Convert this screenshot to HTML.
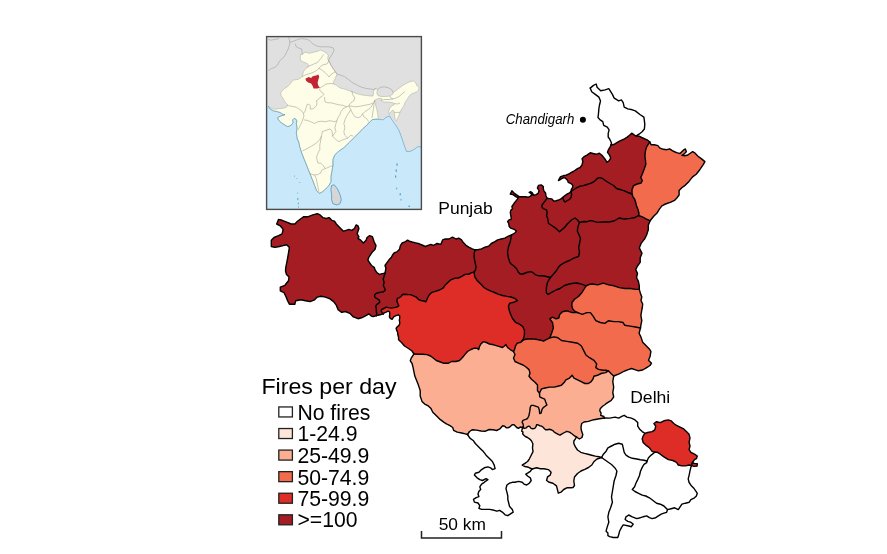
<!DOCTYPE html><html><head><meta charset="utf-8"><style>
html,body{margin:0;padding:0;background:#fff;}
body{width:887px;height:554px;overflow:hidden;position:relative;font-family:"Liberation Sans",sans-serif;}
svg{position:absolute;left:0;top:0;will-change:transform;}
</style></head><body>
<svg width="887" height="554" viewBox="0 0 887 554">
<g>
<rect x="266.8" y="36.8" width="154.6" height="172.6" fill="#c9e9fa"/>
<polygon points="267.0,37.0 421.0,37.0 421.0,146.8 417.6,146.8 413.9,149.6 410.2,151.4 406.5,151.4 404.7,146.8 402.9,141.3 401.0,135.8 399.2,131.0 397.5,128.0 395.3,124.5 393.0,121.5 391.0,118.5 389.8,116.0 387.7,116.6 385.5,117.7 383.3,119.8 377.9,119.3 372.0,118.0 340.0,110.0 300.0,105.0 287.7,104.9 286.6,107.1 283.3,108.2 279.0,108.7 275.7,109.2 272.5,108.7 269.8,107.6 268.2,105.5 267.0,104.5" fill="#e0e0e0"/>
<polygon points="268.5,106.5 272.5,108.7 275.7,109.2 279.0,108.7 283.3,108.2 286.6,107.1 287.7,104.9 285.5,102.7 283.9,100.0 282.8,97.9 281.2,95.7 280.6,93.0 282.2,90.8 284.4,88.7 287.7,86.5 289.8,84.3 293.1,80.0 295.5,79.8 298.5,79.3 302.3,76.6 302.8,74.4 303.4,71.7 305.0,69.6 307.2,67.4 308.8,65.2 307.2,63.6 303.4,62.0 300.7,60.4 300.1,57.7 300.7,54.4 302.3,54.4 305.0,52.2 309.3,53.3 313.7,52.2 318.0,51.2 320.2,50.1 323.4,51.2 326.7,53.3 328.3,55.5 327.7,58.7 328.8,60.9 331.0,65.2 333.1,68.5 335.3,71.7 336.9,74.4 335.3,78.2 333.7,81.5 333.1,83.7 336.4,85.3 340.0,87.9 344.3,89.0 348.7,90.6 353.0,92.2 357.3,93.8 361.7,94.9 366.0,95.5 370.3,96.0 373.0,96.0 373.6,91.7 374.7,89.0 376.3,88.4 377.4,90.0 376.8,93.3 377.9,95.5 381.2,96.5 385.5,96.5 389.8,96.0 393.1,93.8 393.1,92.7 397.4,89.5 401.7,86.2 405.0,84.1 409.3,81.9 413.6,80.8 415.8,83.0 416.9,85.7 419.1,87.3 418.5,90.0 416.9,91.7 414.7,92.7 411.5,93.8 409.3,96.0 407.2,99.2 405.0,102.5 403.9,105.7 401.7,109.0 400.1,112.2 399.0,115.5 397.4,118.7 396.3,120.9 395.2,119.8 394.7,115.5 394.2,112.2 393.1,110.1 391.4,111.2 389.8,113.3 389.3,114.4 388.7,111.2 389.8,107.9 392.0,105.7 394.2,104.7 394.7,103.6 392.0,102.5 387.7,102.0 383.3,102.0 381.2,100.3 381.7,98.7 379.0,98.2 376.8,99.2 374.7,100.3 375.7,102.5 375.7,105.7 376.8,109.0 377.4,112.2 377.9,115.5 378.4,118.7 375.0,119.3 372.5,119.5 369.7,122.0 366.5,125.5 363.0,128.5 359.6,132.1 355.0,136.7 349.5,142.2 343.9,147.7 338.4,151.4 334.7,155.1 332.9,159.7 332.9,165.2 332.0,170.8 331.0,176.3 331.0,181.8 330.3,182.9 329.0,185.5 326.4,188.1 323.8,190.7 321.2,192.6 319.2,193.3 316.6,190.7 314.7,185.5 312.1,179.0 309.5,172.5 306.9,166.0 304.3,159.5 301.7,153.0 299.7,146.5 298.4,140.5 297.4,140.0 296.9,136.3 296.3,133.1 296.9,129.8 296.9,126.6 296.3,123.3 296.9,121.2 295.8,119.0 294.2,118.4 292.5,120.1 293.1,122.2 292.0,124.4 289.8,126.0 287.7,126.6 285.5,125.5 282.2,123.3 279.5,121.2 277.9,119.0 277.9,117.4 280.1,116.3 283.3,115.2 285.0,114.7 283.3,114.7 280.1,112.5 276.3,111.4 273.6,110.9 270.3,109.2" fill="#fdfde8" stroke="#a9a99a" stroke-width="0.5" stroke-linejoin="round"/>
<polyline points="268.2,70.7 271.4,68.5 274.7,67.4 277.4,65.2 279.0,62.0 281.2,59.3 283.3,57.7 285.0,55.5 286.6,52.2 288.2,49.0 289.3,45.7 289.8,42.5 289.3,39.2 288.5,37.5" fill="none" stroke="#9a9a9a" stroke-width="0.55" stroke-linejoin="round"/>
<polyline points="268.2,39.2 270.5,40.2 272.5,39.8 275.7,39.2 279.0,38.7" fill="none" stroke="#9a9a9a" stroke-width="0.55" stroke-linejoin="round"/>
<polyline points="289.8,42.5 294.2,40.9 298.5,39.2 301.7,38.7 306.1,39.2 309.3,40.3 312.6,43.6 315.8,45.7 320.2,46.8 324.5,46.8 328.8,46.8 333.2,47.9 334.2,50.1 332.1,54.4 329.9,57.7 328.3,60.9" fill="none" stroke="#9a9a9a" stroke-width="0.55" stroke-linejoin="round"/>
<polyline points="295.2,43.6 296.3,46.8 298.5,47.9 301.7,49.0 302.3,54.4" fill="none" stroke="#9a9a9a" stroke-width="0.55" stroke-linejoin="round"/>
<polyline points="328.8,60.9 331.0,65.2 333.1,68.5 335.3,71.7 337.5,74.5 340.0,74.9 344.3,76.5 348.7,79.7 353.0,83.0 357.3,85.2 361.7,87.3 366.0,88.4 370.3,89.0 373.6,89.5 376.3,88.4" fill="none" stroke="#9a9a9a" stroke-width="0.55" stroke-linejoin="round"/>
<polyline points="377.4,90.0 380.1,87.3 384.4,86.8 388.7,87.9 392.0,90.0 393.1,92.7" fill="none" stroke="#9a9a9a" stroke-width="0.55" stroke-linejoin="round"/>
<polyline points="372.0,118.0 374.7,100.3" fill="none" stroke="#9a9a9a" stroke-width="0.55" stroke-linejoin="round"/>
<polyline points="268.2,106.0 270.3,109.2 273.6,110.9 276.3,111.4 280.1,112.5 283.3,114.7 285.0,114.7 283.3,115.2 280.1,116.3 277.9,117.4 277.9,119.0 279.5,121.2 282.2,123.3 285.5,125.5 287.7,126.6 289.8,126.0 292.0,124.4 293.1,122.2 292.5,120.1 294.2,118.4 295.8,119.0 296.9,121.2 296.3,123.3 296.9,126.6 296.9,129.8 296.3,133.1 296.9,136.3 297.4,140.0 298.4,140.5 299.7,146.5 301.7,153.0 304.3,159.5 306.9,166.0 309.5,172.5 312.1,179.0 314.7,185.5 316.6,190.7 319.2,193.3 321.2,192.6 323.8,190.7 326.4,188.1 329.0,185.5 330.3,182.9 331.0,181.8 331.0,176.3 332.0,170.8 332.9,165.2 332.9,159.7 334.7,155.1 338.4,151.4 343.9,147.7 349.5,142.2 355.0,136.7 359.6,132.1 363.0,128.5 366.5,125.5 369.7,122.0 372.5,119.5 375.0,119.3 377.9,119.3 383.3,119.8 385.5,117.7 387.7,116.6 389.8,116.0 391.0,118.5 393.0,121.5 395.3,124.5 397.5,128.0 399.2,131.0 401.0,135.8 402.9,141.3 404.7,146.8 406.5,151.4 410.2,151.4 413.9,149.6 417.6,146.8 420.9,146.8" fill="none" stroke="#3d8fc4" stroke-width="0.7" stroke-linejoin="round" stroke-opacity="0.75"/>
<ellipse cx="397.0" cy="164.5" rx="0.6" ry="1.6" fill="#2f86c2" fill-opacity="0.8"/>
<ellipse cx="396.2" cy="170.6" rx="0.6" ry="1.6" fill="#2f86c2" fill-opacity="0.8"/>
<ellipse cx="395.6" cy="176.5" rx="0.6" ry="1.3" fill="#2f86c2" fill-opacity="0.8"/>
<ellipse cx="396.7" cy="188.5" rx="0.5" ry="1.0" fill="#2f86c2" fill-opacity="0.8"/>
<ellipse cx="400.2" cy="194.2" rx="0.6" ry="1.2" fill="#2f86c2" fill-opacity="0.8"/>
<ellipse cx="401.0" cy="199.8" rx="0.5" ry="1.0" fill="#2f86c2" fill-opacity="0.8"/>
<ellipse cx="409.2" cy="206.3" rx="0.9" ry="0.7" fill="#2f86c2" fill-opacity="0.8"/>
<ellipse cx="294.5" cy="176.0" rx="0.5" ry="0.6" fill="#2f86c2" fill-opacity="0.8"/>
<ellipse cx="297.0" cy="178.5" rx="0.4" ry="0.6" fill="#2f86c2" fill-opacity="0.8"/>
<ellipse cx="299.8" cy="182.5" rx="0.4" ry="0.5" fill="#2f86c2" fill-opacity="0.8"/>
<ellipse cx="297.6" cy="193.0" rx="0.5" ry="0.6" fill="#2f86c2" fill-opacity="0.8"/>
<ellipse cx="297.8" cy="199.0" rx="0.5" ry="1.2" fill="#2f86c2" fill-opacity="0.8"/>
<ellipse cx="298.3" cy="203.5" rx="0.5" ry="1.0" fill="#2f86c2" fill-opacity="0.8"/>
<ellipse cx="298.5" cy="207.0" rx="0.5" ry="0.8" fill="#2f86c2" fill-opacity="0.8"/>
<polyline points="287.2,105.4 291.7,106.3 296.2,107.2 299.0,109.0 301.7,110.8 303.5,113.5 303.9,116.2 303.0,119.0 302.1,121.7 300.8,124.4 299.4,127.1 298.1,129.8" fill="none" stroke="#a3a396" stroke-width="0.6" stroke-linejoin="round"/>
<polyline points="303.5,113.5 305.3,110.8 306.2,107.2 307.1,104.5 308.9,104.1 310.2,105.4 310.2,109.0 312.5,109.0 314.7,107.7 316.6,105.4 317.0,102.7 316.1,100.9 317.9,100.0 320.2,97.3 322.3,96.2 323.9,94.6 322.9,93.0 321.2,91.9 320.2,90.8 319.5,88.5" fill="none" stroke="#a3a396" stroke-width="0.6" stroke-linejoin="round"/>
<polyline points="303.9,119.9 307.1,120.3 310.7,121.7 314.3,123.5 317.9,121.7 321.5,121.2 325.1,121.7 330.0,120.7 334.9,121.7 336.9,120.7" fill="none" stroke="#a3a396" stroke-width="0.6" stroke-linejoin="round"/>
<polyline points="322.4,131.6 321.5,136.1 319.7,139.7 316.1,143.3 311.6,146.0 307.1,148.7 304.4,150.0 302.5,151.0" fill="none" stroke="#a3a396" stroke-width="0.6" stroke-linejoin="round"/>
<polyline points="322.4,131.6 325.1,130.7 330.0,128.9 332.0,131.0 332.6,136.2" fill="none" stroke="#a3a396" stroke-width="0.6" stroke-linejoin="round"/>
<polyline points="335.9,131.6 334.4,133.5 332.6,136.2 336.2,139.9 338.9,141.7 342.5,139.9 347.9,138.1 350.6,135.3 353.3,136.2" fill="none" stroke="#a3a396" stroke-width="0.6" stroke-linejoin="round"/>
<polyline points="321.5,136.1 320.8,140.0 319.8,145.0 319.8,149.5 318.0,153.1 316.6,156.7 317.1,160.3 318.0,163.1 320.7,163.1 323.4,165.8 325.2,168.5 327.9,167.6 330.6,166.2 333.3,165.8" fill="none" stroke="#a3a396" stroke-width="0.6" stroke-linejoin="round"/>
<polyline points="325.2,168.5 321.6,170.3 320.7,173.0 317.1,174.8 313.5,174.8 310.8,173.9 309.0,172.1" fill="none" stroke="#a3a396" stroke-width="0.6" stroke-linejoin="round"/>
<polyline points="314.4,174.8 316.2,178.4 317.1,182.9 318.0,187.4 318.9,191.9" fill="none" stroke="#a3a396" stroke-width="0.6" stroke-linejoin="round"/>
<polyline points="324.5,97.0 325.0,101.8 328.0,102.8 331.0,102.8 334.9,103.8 338.9,104.8 342.9,105.3 346.8,106.8 342.9,108.8 340.9,111.8 339.9,114.8 337.9,117.7 336.9,120.7 335.9,123.7 334.9,127.7 335.9,131.6" fill="none" stroke="#a3a396" stroke-width="0.6" stroke-linejoin="round"/>
<polyline points="351.8,90.9 352.8,94.9 354.8,97.9 353.8,100.9 350.8,102.8 348.8,105.8 346.8,106.8" fill="none" stroke="#a3a396" stroke-width="0.6" stroke-linejoin="round"/>
<polyline points="348.8,105.8 354.8,106.8 359.8,106.3 364.7,105.3 369.7,104.3 373.7,102.8 374.7,100.3" fill="none" stroke="#a3a396" stroke-width="0.6" stroke-linejoin="round"/>
<polyline points="373.7,102.8 370.7,107.8 367.7,109.8 364.7,111.8 362.7,113.8 363.7,116.7 366.7,118.7 368.7,121.7" fill="none" stroke="#a3a396" stroke-width="0.6" stroke-linejoin="round"/>
<polyline points="348.8,105.8 350.8,109.8 352.8,113.8 354.8,116.7 357.8,117.7 360.7,116.7 362.7,113.8" fill="none" stroke="#a3a396" stroke-width="0.6" stroke-linejoin="round"/>
<polyline points="350.8,109.8 348.8,112.8 346.8,115.8 344.9,119.7 343.9,123.7 344.9,127.7 343.9,131.6 344.5,135.0 347.9,138.1" fill="none" stroke="#a3a396" stroke-width="0.6" stroke-linejoin="round"/>
<polyline points="302.3,76.6 305.5,74.8 309.0,73.8 313.0,72.5 316.5,70.5 319.0,68.3 321.5,65.5 324.0,64.5 327.0,64.0 328.8,60.9" fill="none" stroke="#a3a396" stroke-width="0.6" stroke-linejoin="round"/>
<polyline points="307.2,67.4 309.0,66.0 312.0,64.8 315.0,63.5 317.5,62.5 319.5,60.0 322.0,57.0 323.5,54.5" fill="none" stroke="#a3a396" stroke-width="0.6" stroke-linejoin="round"/>
<polyline points="319.0,68.3 322.5,70.5 325.0,72.5 327.0,74.5 329.0,77.0" fill="none" stroke="#a3a396" stroke-width="0.6" stroke-linejoin="round"/>
<polyline points="320.0,88.0 323.0,86.0 326.0,84.0 330.0,83.5 333.1,83.7" fill="none" stroke="#a3a396" stroke-width="0.6" stroke-linejoin="round"/>
<polyline points="329.0,77.0 331.0,74.5 335.3,71.7" fill="none" stroke="#a3a396" stroke-width="0.6" stroke-linejoin="round"/>
<polyline points="381.2,100.3 385.0,99.5 389.0,99.5 393.0,99.0 396.0,98.0 399.0,96.5 402.0,94.0 405.0,91.5" fill="none" stroke="#a3a396" stroke-width="0.6" stroke-linejoin="round"/>
<polyline points="394.7,103.6 397.5,104.0 400.0,103.0" fill="none" stroke="#a3a396" stroke-width="0.6" stroke-linejoin="round"/>
<polyline points="394.2,112.2 397.0,112.5 400.1,112.2" fill="none" stroke="#a3a396" stroke-width="0.6" stroke-linejoin="round"/>
<polyline points="389.8,96.0 391.0,98.0 393.0,99.0" fill="none" stroke="#a3a396" stroke-width="0.6" stroke-linejoin="round"/>
<polygon points="331.6,185.5 334.2,184.8 337.4,188.7 340.0,194.6 341.3,199.8 340.0,203.7 336.8,205.0 332.9,203.7 331.6,199.8 331.6,194.6 330.9,189.4" fill="#d6d6d6" stroke="#3b8fc0" stroke-width="0.7"/>
<polygon points="305.4,78.7 308.7,77.0 311.1,77.9 312.7,76.2 316.0,75.4 318.4,74.6 319.2,77.0 318.4,79.5 317.6,82.7 318.4,86.0 320.0,87.6 317.6,88.4 313.5,88.4 312.7,86.0 311.1,83.5 308.7,82.7 306.2,81.1" fill="#c22434"/>
<rect x="266.6" y="36.6" width="154.8" height="172.8" fill="none" stroke="#4a4a4a" stroke-width="1.4"/>
</g>
<g stroke="none">
<polygon points="649.8,142.0 651.1,144.7 654.3,144.7 657.9,145.6 659.7,147.9 663.3,149.3 666.9,149.7 669.6,148.8 672.3,150.6 675.1,152.0 677.5,152.8 680.0,153.5 683.6,149.9 685.4,149.0 686.3,151.7 683.6,154.4 681.8,155.3 684.5,155.8 687.2,155.3 689.9,153.5 692.6,151.7 694.4,152.6 698.0,156.2 701.6,158.9 704.9,161.6 703.4,164.3 699.8,169.7 696.2,174.2 692.6,176.9 689.0,181.4 685.4,185.1 681.8,187.8 679.1,190.5 679.1,195.0 676.4,198.6 674.5,200.4 670.9,202.2 665.5,204.0 661.9,205.8 659.2,209.4 657.3,212.7 653.7,216.3 650.1,220.8 648.3,219.9 646.0,218.8 642.9,217.2 638.6,215.5 639.0,213.5 638.0,209.5 636.4,205.5 635.7,202.5 634.8,199.5 633.0,196.8 632.0,194.0 632.0,189.7 633.6,185.6 637.2,184.0 641.2,183.0 642.3,180.5 640.8,177.5 642.6,173.3 644.4,168.5 645.8,164.5 645.5,160.5 645.0,157.0 645.1,153.3 645.7,149.7 646.6,147.0 648.0,144.7 649.8,142.0" fill="#f26b4c"/>
<polygon points="611.0,145.0 614.5,144.2 617.3,142.4 620.0,140.8 624.5,138.8 627.2,137.1 629.5,135.3 631.7,133.2 633.5,134.4 635.3,135.7 636.6,135.7 639.0,136.2 641.7,137.5 647.1,139.8 649.8,142.0 648.0,144.7 646.6,147.0 645.7,149.7 645.1,153.3 645.0,157.0 645.5,160.5 645.8,164.5 644.4,168.5 642.6,173.3 640.8,177.5 642.3,180.5 641.2,183.0 637.2,184.0 633.6,185.6 632.0,189.7 632.0,194.0 628.0,192.5 624.5,190.8 620.0,189.5 616.5,188.5 613.7,185.5 610.0,183.5 606.0,181.0 602.5,178.5 600.0,177.6 597.5,178.2 595.6,180.2 593.4,182.0 590.5,183.4 586.9,184.5 583.3,185.6 579.7,186.3 576.8,187.7 573.9,189.5 571.0,191.4 571.4,189.2 572.5,187.7 572.9,185.9 571.8,184.1 570.0,183.1 568.2,182.3 567.8,180.9 566.7,179.4 565.3,178.0 563.8,177.6 561.7,178.7 559.9,179.8 558.4,180.5 559.5,178.4 560.6,176.6 563.1,175.8 566.0,175.1 568.9,174.0 571.0,172.6 573.2,171.5 575.4,170.1 577.5,168.6 580.1,167.5 582.0,165.0 582.8,161.5 582.1,158.8 584.2,156.6 587.3,154.8 590.2,152.8 593.0,153.5 596.3,154.3 599.4,153.2 601.9,155.2 603.7,157.5 605.5,159.8 607.0,162.3 609.0,160.8 610.7,158.0 609.5,155.1 607.5,152.3 608.5,149.6 610.0,147.0 611.0,145.0" fill="#a31d22"/>
<polygon points="571.0,191.4 573.9,189.5 576.8,187.7 579.7,186.3 583.3,185.6 586.9,184.5 590.5,183.4 593.4,182.0 595.6,180.2 597.5,178.2 600.0,177.6 602.5,178.5 606.0,181.0 610.0,183.5 613.7,185.5 616.5,188.5 620.0,189.5 624.5,190.8 628.0,192.5 632.0,194.0 633.0,196.8 634.8,199.5 635.7,202.5 636.4,205.5 638.0,209.5 639.0,213.5 638.6,215.5 635.0,217.5 630.2,218.4 624.8,219.0 622.7,218.7 619.2,218.0 614.0,221.0 608.5,222.0 603.0,222.0 597.6,222.4 592.3,220.8 590.5,220.7 587.0,221.7 584.0,221.5 579.5,222.5 577.5,220.0 575.0,218.0 571.5,220.0 567.5,223.8 564.5,227.5 561.5,230.0 559.5,231.8 557.0,229.5 554.5,227.3 551.0,225.0 548.5,223.5 548.2,221.5 547.7,218.4 546.6,215.7 547.1,212.5 546.6,210.0 544.4,209.2 542.2,207.6 541.7,205.5 543.3,203.3 545.0,201.1 547.0,198.3 549.4,198.6 551.9,198.9 553.0,200.4 554.1,201.1 556.2,200.7 558.8,200.0 561.3,198.6 563.1,197.1 565.3,195.3 567.4,193.9 569.6,192.8 571.0,191.4" fill="#a31d22"/>
<polygon points="547.0,198.3 546.0,195.7 545.5,193.0 543.9,190.8 543.3,188.7 543.3,186.5 541.2,184.9 538.4,185.4 537.4,188.1 539.0,190.3 538.4,193.0 536.3,194.6 533.6,195.2 532.5,193.0 530.9,191.7 529.2,192.5 530.9,193.5 532.0,195.2 530.3,196.2 528.2,197.3 525.5,196.8 522.7,196.8 519.5,196.8 516.2,194.6 514.1,193.0 511.9,190.8 510.3,194.1 513.0,194.6 516.2,196.8 518.4,197.9 516.2,200.6 514.1,203.3 511.9,206.5 512.5,208.7 510.8,210.3 510.3,212.5 510.8,215.7 511.4,219.0 508.7,220.1 507.6,221.7 508.7,223.3 509.2,226.6 510.8,228.2 514.1,229.3 516.2,230.9 515.5,232.5 513.0,234.0 511.5,235.0 510.3,241.7 508.4,247.1 507.5,252.5 508.4,257.9 510.3,263.3 513.9,266.0 516.6,268.7 518.4,272.3 520.2,274.0 522.9,274.0 526.5,272.5 530.5,271.6 532.8,272.5 535.5,274.8 539.1,275.8 542.7,275.8 546.4,276.5 550.5,277.5 554.0,273.5 556.8,270.0 558.0,267.8 560.5,265.0 564.0,262.8 569.3,260.5 574.3,257.8 578.5,256.5 579.5,252.5 578.7,247.5 579.7,242.5 580.5,238.5 579.0,234.8 577.3,231.0 578.0,226.5 579.5,222.5 577.5,220.0 575.0,218.0 571.5,220.0 567.5,223.8 564.5,227.5 561.5,230.0 559.5,231.8 557.0,229.5 554.5,227.3 551.0,225.0 548.5,223.5 548.2,221.5 547.7,218.4 546.6,215.7 547.1,212.5 546.6,210.0 544.4,209.2 542.2,207.6 541.7,205.5 543.3,203.3 545.0,201.1 547.0,198.3" fill="#a31d22"/>
<polygon points="579.5,222.5 584.0,221.5 587.0,221.7 590.5,220.7 592.3,220.8 597.6,222.4 603.0,222.0 608.5,222.0 614.0,221.0 619.2,218.0 622.7,218.7 624.8,219.0 630.2,218.4 635.0,217.5 638.6,215.5 642.9,217.2 646.0,218.8 648.3,219.9 650.1,220.8 648.3,225.3 648.3,229.9 646.5,235.3 644.7,238.9 641.1,243.4 639.3,247.9 642.0,253.3 640.2,257.8 640.2,262.3 637.5,266.0 635.7,269.6 637.5,273.2 636.6,277.7 638.4,281.3 639.3,285.8 639.3,289.4 635.7,289.4 630.3,288.5 624.8,288.5 619.4,287.6 614.0,285.8 608.6,284.9 603.2,283.1 597.8,284.9 592.3,284.0 589.0,284.5 586.0,285.8 583.0,284.7 580.0,283.7 577.0,283.0 573.4,283.2 569.0,284.0 564.5,285.5 560.0,288.5 556.0,290.0 551.5,292.3 548.2,294.5 546.5,293.0 546.3,290.5 546.5,286.8 547.3,283.0 548.5,280.5 550.5,277.5 554.0,273.5 556.8,270.0 558.0,267.8 560.5,265.0 564.0,262.8 569.3,260.5 574.3,257.8 578.5,256.5 579.5,252.5 578.7,247.5 579.7,242.5 580.5,238.5 579.0,234.8 577.3,231.0 578.0,226.5 579.5,222.5" fill="#a31d22"/>
<polygon points="475.0,249.8 477.8,249.8 481.4,248.9 485.0,247.1 488.6,246.2 491.3,243.5 494.9,241.7 497.6,239.9 501.2,239.0 504.8,238.1 508.4,236.2 511.5,235.0 510.3,241.7 508.4,247.1 507.5,252.5 508.4,257.9 510.3,263.3 513.9,266.0 516.6,268.7 518.4,272.3 520.2,274.0 522.9,274.0 526.5,272.5 530.5,271.6 532.8,272.5 535.5,274.8 539.1,275.8 542.7,275.8 546.4,276.5 550.5,277.5 548.5,280.5 547.3,283.0 546.5,286.8 546.3,290.5 546.5,293.0 548.2,294.5 551.5,292.3 556.0,290.0 560.0,288.5 564.5,285.5 569.0,284.0 573.4,283.2 577.0,283.0 580.0,283.7 583.0,284.7 586.0,285.8 584.5,288.5 582.0,292.5 578.5,296.5 574.5,299.3 572.0,302.5 571.8,305.5 572.5,308.3 574.2,310.8 577.8,312.6 572.3,312.6 566.9,310.8 562.4,311.7 559.7,314.4 558.8,318.0 556.1,318.9 552.5,317.1 549.8,318.9 552.5,322.5 553.4,327.9 551.6,333.3 549.8,337.8 546.2,339.6 543.5,341.2 540.5,340.2 537.2,339.5 532.6,338.9 527.2,339.0 523.6,339.8 522.0,340.8 523.5,338.6 524.4,335.0 524.5,330.5 522.7,326.5 519.3,324.2 515.5,322.3 512.5,318.5 510.7,314.5 509.3,310.5 508.4,306.3 509.7,303.2 513.8,302.3 517.4,300.5 514.7,298.3 511.0,297.0 507.0,296.4 502.5,295.5 498.0,294.2 494.5,292.5 491.0,291.2 487.5,289.7 484.0,287.5 480.5,283.8 477.2,280.5 474.9,277.2 474.0,272.2 475.5,270.0 476.0,266.9 475.1,262.4 474.2,257.9 474.2,253.4 475.0,249.8" fill="#a31d22"/>
<polygon points="586.0,285.8 589.0,284.5 592.3,284.0 597.8,284.9 603.2,283.1 608.6,284.9 614.0,285.8 619.4,287.6 624.8,288.5 630.3,288.5 635.7,289.4 639.3,289.4 640.5,293.6 641.8,297.0 641.0,300.5 642.7,304.0 642.3,307.5 641.8,310.0 640.9,315.3 641.8,320.7 640.9,325.2 640.5,328.0 635.5,327.0 630.1,326.1 624.7,325.2 622.9,322.5 618.4,321.6 613.9,321.6 608.4,320.7 604.8,323.4 600.3,322.5 595.8,320.7 593.1,316.2 590.4,312.6 586.8,312.6 582.3,314.4 577.8,312.6 574.2,310.8 572.5,308.3 571.8,305.5 572.0,302.5 574.5,299.3 578.5,296.5 582.0,292.5 584.5,288.5 586.0,285.8" fill="#f26b4c"/>
<polygon points="577.8,312.6 582.3,314.4 586.8,312.6 590.4,312.6 593.1,316.2 595.8,320.7 600.3,322.5 604.8,323.4 608.4,320.7 613.9,321.6 618.4,321.6 622.9,322.5 624.7,325.2 630.1,326.1 635.5,327.0 640.5,328.0 639.1,333.3 640.9,336.9 642.7,342.3 646.4,346.0 649.1,348.7 650.9,351.4 650.0,356.8 648.5,360.2 651.5,363.2 650.0,365.5 646.3,367.8 642.6,370.0 638.5,370.8 635.5,369.8 631.5,368.5 628.3,369.6 624.6,371.0 619.1,373.8 613.7,376.0 611.0,373.5 608.3,370.8 606.6,370.3 603.0,370.3 598.5,369.4 595.8,367.6 596.7,364.0 594.0,360.4 589.5,357.7 585.9,355.0 584.1,351.4 581.4,346.0 577.8,343.2 572.3,342.3 566.9,341.4 561.5,340.5 557.9,337.8 554.3,336.9 549.8,337.8 551.6,333.3 553.4,327.9 552.5,322.5 549.8,318.9 552.5,317.1 556.1,318.9 558.8,318.0 559.7,314.4 562.4,311.7 566.9,310.8 572.3,312.6 577.8,312.6" fill="#f26b4c"/>
<polygon points="549.8,337.8 554.3,336.9 557.9,337.8 561.5,340.5 566.9,341.4 572.3,342.3 577.8,343.2 581.4,346.0 584.1,351.4 585.9,355.0 589.5,357.7 594.0,360.4 596.7,364.0 595.8,367.6 598.5,369.4 603.0,370.3 606.6,370.3 608.3,370.8 605.6,372.6 601.1,373.5 597.5,375.3 593.9,376.2 593.0,379.0 591.2,381.7 588.4,383.5 584.8,383.5 581.2,381.7 577.6,379.9 574.0,378.1 572.2,375.3 569.5,378.1 565.9,379.9 564.1,382.6 561.4,385.3 557.8,386.2 554.2,387.1 549.6,387.1 545.1,388.0 541.5,388.9 539.5,393.0 537.5,390.7 537.5,388.0 537.5,385.0 535.0,382.3 531.5,379.3 529.0,376.3 530.0,373.0 529.0,369.6 526.0,367.0 523.0,365.0 519.0,363.3 515.0,361.5 513.5,358.0 515.0,354.5 513.5,351.5 514.6,349.4 515.5,345.8 517.3,343.1 520.9,342.2 522.0,340.8 523.6,339.8 527.2,339.0 532.6,338.9 537.2,339.5 540.5,340.2 543.5,341.2 546.2,339.6 549.8,337.8" fill="#f26b4c"/>
<polygon points="383.1,313.9 381.2,311.2 381.7,309.4 384.0,308.5 386.2,307.1 388.5,307.6 391.2,308.0 393.9,307.6 396.6,307.1 398.8,305.8 397.9,303.5 397.0,301.7 397.0,299.4 397.9,298.1 399.7,297.6 401.1,296.3 402.5,294.5 405.0,294.2 407.4,294.5 410.5,294.6 413.5,295.8 416.4,297.2 418.5,299.5 421.0,300.5 424.0,301.0 426.0,301.8 427.5,298.0 429.5,294.5 432.0,292.3 435.2,291.3 439.5,290.0 443.0,288.2 445.0,285.3 447.8,282.6 450.8,279.8 454.5,278.3 458.3,278.0 462.3,276.2 465.0,274.4 468.6,274.3 471.5,272.6 474.0,272.2 474.9,277.2 477.2,280.5 480.5,283.8 484.0,287.5 487.5,289.7 491.0,291.2 494.5,292.5 498.0,294.2 502.5,295.5 507.0,296.4 511.0,297.0 514.7,298.3 517.4,300.5 513.8,302.3 509.7,303.2 508.4,306.3 509.3,310.5 510.7,314.5 512.5,318.5 515.5,322.3 519.3,324.2 522.7,326.5 524.5,330.5 524.4,335.0 523.5,338.6 522.0,340.8 520.9,342.2 517.3,343.1 515.5,345.8 514.6,349.4 513.5,351.5 510.5,349.8 507.5,347.5 505.9,344.5 504.5,346.0 502.5,347.5 498.0,346.2 493.6,344.8 489.5,344.0 486.4,342.5 483.6,341.6 481.0,343.8 479.5,346.5 478.7,349.6 477.0,348.3 474.4,348.1 471.0,349.5 467.5,351.5 464.8,354.6 462.5,357.5 459.5,360.5 456.0,361.5 451.5,361.5 448.0,363.3 444.0,363.3 440.5,362.0 436.3,360.5 433.5,358.2 430.5,356.0 427.0,354.6 422.9,354.3 418.4,354.2 414.0,354.0 412.0,351.0 408.5,348.5 404.5,346.0 401.5,342.5 398.6,339.8 398.5,337.0 397.8,334.5 397.5,331.9 396.6,330.1 396.1,328.3 397.0,327.0 398.8,325.6 399.7,323.8 399.7,322.0 399.3,320.2 399.7,318.4 399.7,316.1 398.4,314.8 396.1,315.7 393.9,316.6 392.1,319.3 390.3,318.4 389.4,316.6 389.8,313.9 389.4,311.6 388.0,311.2 386.2,312.1 384.0,313.0 383.1,313.9" fill="#de2d26"/>
<polygon points="385.0,273.2 385.9,268.2 385.0,265.5 386.8,262.8 389.5,259.2 391.4,257.3 392.3,255.5 394.1,252.8 396.8,251.9 399.5,249.2 400.4,245.6 402.2,242.9 404.9,242.0 407.6,240.2 409.4,241.1 412.1,242.0 415.7,242.9 419.3,243.8 422.0,245.0 425.4,246.5 428.1,245.3 430.8,244.4 433.5,245.3 437.1,243.5 440.8,244.4 442.6,239.9 445.3,239.0 448.9,239.0 452.5,237.1 456.1,239.0 458.8,238.1 461.5,239.9 463.3,242.6 466.0,245.3 468.7,247.1 472.3,248.9 475.0,249.8 474.2,253.4 474.2,257.9 475.1,262.4 476.0,266.9 475.5,270.0 474.0,272.2 471.5,272.6 468.6,274.3 465.0,274.4 462.3,276.2 458.3,278.0 454.5,278.3 450.8,279.8 447.8,282.6 445.0,285.3 443.0,288.2 439.5,290.0 435.2,291.3 432.0,292.3 429.5,294.5 427.5,298.0 426.0,301.8 424.0,301.0 421.0,300.5 418.5,299.5 416.4,297.2 413.5,295.8 410.5,294.6 407.4,294.5 405.0,294.2 402.5,294.5 401.1,296.3 399.7,297.6 397.9,298.1 397.0,299.4 397.0,301.7 397.9,303.5 398.8,305.8 396.6,307.1 393.9,307.6 391.2,308.0 388.5,307.6 386.2,307.1 384.0,308.5 381.7,309.4 381.2,311.2 383.1,313.9 381.7,314.3 379.9,314.8 378.1,315.2 376.3,315.7 376.7,313.9 376.3,311.2 376.3,308.5 375.8,306.2 376.7,304.4 378.5,303.5 379.9,301.7 379.0,299.9 376.7,298.5 374.9,297.2 374.5,295.4 375.8,293.6 378.1,292.7 380.8,292.2 383.5,291.8 385.3,290.0 384.4,287.7 383.3,285.5 384.1,282.6 383.2,279.0 384.1,276.3 385.0,273.2" fill="#a31d22"/>
<polygon points="385.0,273.2 382.3,273.6 379.6,274.5 376.9,272.7 375.1,270.0 374.2,267.3 371.5,265.5 369.7,262.8 367.9,260.1 368.8,257.3 370.6,254.6 372.4,251.9 375.1,249.2 376.0,245.6 374.2,242.0 373.3,239.3 372.4,236.6 369.7,235.7 367.0,237.5 366.1,240.2 363.4,242.9 360.7,240.2 358.0,238.4 358.9,236.6 357.1,233.9 358.0,231.2 358.9,228.5 358.0,225.8 356.2,224.9 354.4,228.5 351.6,230.3 348.9,229.4 346.2,230.3 343.5,231.2 341.7,229.4 339.0,226.7 336.3,224.0 334.5,221.2 331.8,220.3 329.1,217.6 326.4,218.5 322.8,217.6 320.1,214.9 317.3,213.7 312.8,214.9 308.3,216.7 303.8,216.7 301.1,218.5 297.5,221.2 294.8,224.0 291.2,224.0 286.7,222.1 282.1,220.3 278.5,219.4 276.7,224.0 280.3,225.8 283.1,229.4 282.1,233.9 278.5,235.7 274.0,237.5 271.3,240.2 271.3,246.5 274.9,247.4 279.4,246.5 283.1,245.6 286.7,244.7 289.4,247.4 288.5,252.8 287.6,258.2 286.7,262.8 285.8,267.3 285.5,271.0 286.5,274.5 289.0,277.0 288.5,280.8 284.9,285.3 280.3,287.1 280.3,290.8 284.0,292.6 285.8,296.2 287.6,300.7 289.4,304.3 294.8,304.3 295.7,300.7 301.1,299.8 305.6,300.7 310.1,301.6 314.6,299.8 317.3,297.1 321.0,296.2 325.5,297.1 330.0,298.9 333.6,301.6 336.3,305.2 338.1,309.7 341.7,312.4 345.3,311.5 349.8,313.3 353.4,316.9 358.0,318.7 361.6,317.8 365.0,316.1 366.8,315.2 368.6,313.9 370.0,314.8 371.3,316.1 373.1,316.6 374.9,316.1 376.3,315.7 376.7,313.9 376.3,311.2 376.3,308.5 375.8,306.2 376.7,304.4 378.5,303.5 379.9,301.7 379.0,299.9 376.7,298.5 374.9,297.2 374.5,295.4 375.8,293.6 378.1,292.7 380.8,292.2 383.5,291.8 385.3,290.0 384.4,287.7 383.3,285.5 384.1,282.6 383.2,279.0 384.1,276.3 385.0,273.2" fill="#a31d22"/>
<polygon points="414.0,354.0 418.4,354.2 422.9,354.3 427.0,354.6 430.5,356.0 433.5,358.2 436.3,360.5 440.5,362.0 444.0,363.3 448.0,363.3 451.5,361.5 456.0,361.5 459.5,360.5 462.5,357.5 464.8,354.6 467.5,351.5 471.0,349.5 474.4,348.1 477.0,348.3 478.7,349.6 479.5,346.5 481.0,343.8 483.6,341.6 486.4,342.5 489.5,344.0 493.6,344.8 498.0,346.2 502.5,347.5 504.5,346.0 505.9,344.5 507.5,347.5 510.5,349.8 513.5,351.5 515.0,354.5 513.5,358.0 515.0,361.5 519.0,363.3 523.0,365.0 526.0,367.0 529.0,369.6 530.0,373.0 529.0,376.3 531.5,379.3 535.0,382.3 537.5,385.0 537.5,388.0 537.5,390.7 539.5,393.0 539.7,396.8 542.4,398.2 544.7,399.1 545.6,401.8 546.9,404.9 545.1,406.3 543.3,407.6 542.0,409.4 541.1,413.1 539.7,413.5 539.3,409.9 538.4,407.2 536.1,406.3 533.4,405.4 531.1,405.4 530.2,407.6 529.8,411.2 528.9,415.8 527.5,418.5 525.7,419.4 523.0,420.3 522.1,422.1 523.0,423.9 523.5,426.1 522.6,427.5 520.3,427.0 518.5,428.4 516.7,427.5 515.3,426.1 514.0,424.8 512.2,424.8 510.8,426.1 509.0,427.5 507.2,427.9 505.9,427.5 504.5,426.1 502.7,425.7 500.0,428.8 496.5,430.5 493.0,429.8 489.2,429.5 485.5,431.2 481.0,431.0 476.5,430.1 472.5,429.7 469.5,431.5 467.5,434.5 465.3,433.9 461.7,433.0 457.2,432.1 453.6,430.3 452.7,427.5 450.0,425.7 446.4,423.9 443.7,422.1 440.1,419.4 436.4,415.8 432.8,412.2 431.0,408.6 428.3,405.9 424.7,404.1 422.0,401.4 420.2,396.0 420.2,390.5 418.4,385.1 416.6,380.6 414.8,376.1 413.9,371.6 413.0,367.1 412.1,363.5 410.3,360.8 411.2,358.1 414.0,354.0" fill="#fbae91"/>
<polygon points="539.5,393.0 541.5,388.9 545.1,388.0 549.6,387.1 554.2,387.1 557.8,386.2 561.4,385.3 564.1,382.6 565.9,379.9 569.5,378.1 572.2,375.3 574.0,378.1 577.6,379.9 581.2,381.7 584.8,383.5 588.4,383.5 591.2,381.7 593.0,379.0 593.9,376.2 597.5,375.3 601.1,373.5 605.6,372.6 608.3,370.8 611.0,373.5 613.7,376.0 612.8,381.7 613.7,387.1 612.8,392.5 613.7,397.0 611.0,400.6 608.8,401.8 606.5,403.3 605.2,404.5 602.9,406.0 601.6,407.2 600.2,408.7 599.8,410.8 601.1,413.2 600.7,415.3 603.8,416.5 604.5,418.0 599.3,418.8 593.9,419.7 588.4,421.4 584.0,422.0 581.7,423.5 581.0,427.1 581.2,429.5 581.7,431.6 582.8,434.5 582.0,437.5 579.4,439.0 576.5,437.0 574.9,436.2 572.2,434.0 569.5,432.2 566.8,431.3 563.5,433.0 560.0,435.2 558.7,434.7 557.3,433.8 555.5,432.9 554.2,432.0 552.8,430.6 551.0,429.7 549.2,429.3 547.4,429.7 545.6,429.7 544.2,428.4 542.9,427.0 541.5,426.1 539.7,425.7 537.9,424.8 536.6,424.8 536.1,426.6 534.7,428.4 532.9,428.8 531.1,428.4 529.8,426.6 528.9,426.1 527.5,426.6 526.2,427.9 524.4,428.4 522.6,427.5 523.5,426.1 523.0,423.9 522.1,422.1 523.0,420.3 525.7,419.4 527.5,418.5 528.9,415.8 529.8,411.2 530.2,407.6 531.1,405.4 533.4,405.4 536.1,406.3 538.4,407.2 539.3,409.9 539.7,413.5 541.1,413.1 542.0,409.4 543.3,407.6 545.1,406.3 546.9,404.9 545.6,401.8 544.7,399.1 542.4,398.2 539.7,396.8 539.5,393.0" fill="#fbae91"/>
<polygon points="522.6,427.5 524.4,428.4 526.2,427.9 527.5,426.6 528.9,426.1 529.8,426.6 531.1,428.4 532.9,428.8 534.7,428.4 536.1,426.6 536.6,424.8 537.9,424.8 539.7,425.7 541.5,426.1 542.9,427.0 544.2,428.4 545.6,429.7 547.4,429.7 549.2,429.3 551.0,429.7 552.8,430.6 554.2,432.0 555.5,432.9 557.3,433.8 558.7,434.7 560.0,435.2 563.5,433.0 566.8,431.3 569.5,432.2 572.2,434.0 574.9,436.2 576.5,437.0 575.4,438.8 573.9,441.0 573.8,443.5 575.4,446.9 577.5,450.0 580.8,452.3 584.4,453.4 588.1,454.3 591.7,455.2 595.3,456.1 598.9,456.8 601.6,457.5 597.0,459.0 593.8,461.8 591.8,465.0 588.5,467.5 584.8,469.3 581.0,471.0 577.5,473.5 574.5,477.0 573.8,481.0 574.5,485.5 573.0,487.5 570.9,487.7 567.3,487.7 563.7,489.5 561.0,492.2 558.3,493.1 557.4,489.5 556.5,485.9 552.9,483.2 549.3,482.3 546.6,480.5 547.5,476.9 550.2,475.1 551.1,472.3 548.4,469.6 543.9,468.7 540.3,468.7 536.6,467.8 533.0,468.7 532.0,469.0 528.5,467.3 525.0,466.5 522.2,465.1 524.9,463.3 527.6,461.5 529.4,458.8 531.2,455.2 533.0,451.6 532.5,448.0 532.9,443.7 531.4,440.8 529.5,438.8 527.5,437.5 525.3,436.5 523.9,435.2 522.6,433.8 523.0,432.0 521.7,431.1 522.1,429.3 522.6,427.5" fill="#fee5d9"/>
<polygon points="644.9,433.4 647.6,432.5 652.1,431.6 654.8,429.8 655.7,426.2 653.9,423.5 656.6,421.7 660.3,422.6 663.9,420.8 668.4,419.9 671.1,420.8 673.8,423.5 676.5,425.3 680.1,427.1 683.7,428.9 686.4,431.6 689.1,434.3 690.0,437.9 689.1,442.4 690.0,446.0 689.1,449.6 690.9,452.3 694.5,454.2 697.3,456.0 696.4,458.7 694.5,459.6 692.5,462.5 691.5,465.5 689.1,465.0 685.5,465.9 681.9,465.9 678.3,465.0 676.5,462.3 672.9,460.5 668.4,459.6 663.9,456.9 660.3,454.2 657.5,452.3 654.8,452.3 652.1,451.4 649.4,447.8 645.8,445.1 643.1,442.4 642.2,438.8 643.1,436.1 644.9,433.4" fill="#de2d26"/>
</g>
<g fill="none" stroke="#000" stroke-width="1.4" stroke-linejoin="round" stroke-linecap="round">
<polyline points="590.2,88.1 591.7,91.7 595.3,94.4 598.9,97.1 600.5,101.0 599.5,105.0 598.9,108.5 598.5,113.5 598.0,117.5 600.1,119.9 602.8,121.7 603.7,125.3 607.3,127.1 609.1,129.8 608.2,133.4 608.2,137.0 610.0,139.7 611.5,143.0 611.0,145.0"/>
<polyline points="590.2,88.1 593.5,85.4 596.2,84.0 597.1,87.2 600.7,90.8 605.2,89.9 608.8,88.7 612.4,94.4 614.2,98.1 618.7,100.8 621.4,99.9 623.2,102.6 624.2,107.1 627.8,108.9 632.3,109.8 635.3,110.9 639.9,114.5 643.9,117.2 644.4,120.8 644.8,124.4 644.4,129.0 642.1,131.7 639.0,134.2 636.6,135.7"/>
<polyline points="611.0,145.0 614.5,144.2 617.3,142.4 620.0,140.8 624.5,138.8 627.2,137.1 629.5,135.3 631.7,133.2 633.5,134.4 635.3,135.7 636.6,135.7"/>
<polyline points="636.6,135.7 639.0,136.2 641.7,137.5 647.1,139.8 649.8,142.0"/>
<polyline points="611.0,145.0 610.0,147.0 608.5,149.6 607.5,152.3 609.5,155.1 610.7,158.0 609.0,160.8 607.0,162.3 605.5,159.8 603.7,157.5 601.9,155.2 599.4,153.2 596.3,154.3 593.0,153.5 590.2,152.8 587.3,154.8 584.2,156.6 582.1,158.8 582.8,161.5 582.0,165.0 580.1,167.5 577.5,168.6 575.4,170.1 573.2,171.5 571.0,172.6 568.9,174.0 566.0,175.1 563.1,175.8 560.6,176.6 559.5,178.4 558.4,180.5 559.9,179.8 561.7,178.7 563.8,177.6 565.3,178.0 566.7,179.4 567.8,180.9 568.2,182.3 570.0,183.1 571.8,184.1 572.9,185.9 572.5,187.7 571.4,189.2 571.0,191.4"/>
<polyline points="649.8,142.0 648.0,144.7 646.6,147.0 645.7,149.7 645.1,153.3 645.0,157.0 645.5,160.5 645.8,164.5 644.4,168.5 642.6,173.3 640.8,177.5 642.3,180.5 641.2,183.0 637.2,184.0 633.6,185.6 632.0,189.7 632.0,194.0"/>
<polyline points="571.0,191.4 573.9,189.5 576.8,187.7 579.7,186.3 583.3,185.6 586.9,184.5 590.5,183.4 593.4,182.0 595.6,180.2 597.5,178.2 600.0,177.6 602.5,178.5 606.0,181.0 610.0,183.5 613.7,185.5 616.5,188.5 620.0,189.5 624.5,190.8 628.0,192.5 632.0,194.0"/>
<polyline points="571.0,191.4 569.6,192.8 567.4,193.9 565.3,195.3 563.1,197.1 561.3,198.6 558.8,200.0 556.2,200.7 554.1,201.1 553.0,200.4 551.9,198.9 549.4,198.6 547.0,198.3"/>
<polyline points="632.0,194.0 633.0,196.8 634.8,199.5 635.7,202.5 636.4,205.5 638.0,209.5 639.0,213.5 638.6,215.5"/>
<polyline points="547.0,198.3 545.0,201.1 543.3,203.3 541.7,205.5 542.2,207.6 544.4,209.2 546.6,210.0 547.1,212.5 546.6,215.7 547.7,218.4 548.2,221.5 548.5,223.5 551.0,225.0 554.5,227.3 557.0,229.5 559.5,231.8 561.5,230.0 564.5,227.5 567.5,223.8 571.5,220.0 575.0,218.0 577.5,220.0 579.5,222.5"/>
<polyline points="579.5,222.5 584.0,221.5 587.0,221.7 590.5,220.7 592.3,220.8 597.6,222.4 603.0,222.0 608.5,222.0 614.0,221.0 619.2,218.0 622.7,218.7 624.8,219.0 630.2,218.4 635.0,217.5 638.6,215.5"/>
<polyline points="649.8,142.0 651.1,144.7 654.3,144.7 657.9,145.6 659.7,147.9 663.3,149.3 666.9,149.7 669.6,148.8 672.3,150.6 675.1,152.0 677.5,152.8 680.0,153.5 683.6,149.9 685.4,149.0 686.3,151.7 683.6,154.4 681.8,155.3 684.5,155.8 687.2,155.3 689.9,153.5 692.6,151.7 694.4,152.6 698.0,156.2 701.6,158.9 704.9,161.6 703.4,164.3 699.8,169.7 696.2,174.2 692.6,176.9 689.0,181.4 685.4,185.1 681.8,187.8 679.1,190.5 679.1,195.0 676.4,198.6 674.5,200.4 670.9,202.2 665.5,204.0 661.9,205.8 659.2,209.4 657.3,212.7 653.7,216.3 650.1,220.8"/>
<polyline points="638.6,215.5 642.9,217.2 646.0,218.8 648.3,219.9 650.1,220.8"/>
<polyline points="650.1,220.8 648.3,225.3 648.3,229.9 646.5,235.3 644.7,238.9 641.1,243.4 639.3,247.9 642.0,253.3 640.2,257.8 640.2,262.3 637.5,266.0 635.7,269.6 637.5,273.2 636.6,277.7 638.4,281.3 639.3,285.8 639.3,289.4"/>
<polyline points="579.5,222.5 578.0,226.5 577.3,231.0 579.0,234.8 580.5,238.5 579.7,242.5 578.7,247.5 579.5,252.5 578.5,256.5 574.3,257.8 569.3,260.5 564.0,262.8 560.5,265.0 558.0,267.8 556.8,270.0 554.0,273.5 550.5,277.5"/>
<polyline points="547.0,198.3 546.0,195.7 545.5,193.0 543.9,190.8 543.3,188.7 543.3,186.5 541.2,184.9 538.4,185.4 537.4,188.1 539.0,190.3 538.4,193.0 536.3,194.6 533.6,195.2 532.5,193.0 530.9,191.7 529.2,192.5 530.9,193.5 532.0,195.2 530.3,196.2 528.2,197.3 525.5,196.8 522.7,196.8 519.5,196.8 516.2,194.6 514.1,193.0 511.9,190.8 510.3,194.1 513.0,194.6 516.2,196.8 518.4,197.9 516.2,200.6 514.1,203.3 511.9,206.5 512.5,208.7 510.8,210.3 510.3,212.5 510.8,215.7 511.4,219.0 508.7,220.1 507.6,221.7 508.7,223.3 509.2,226.6 510.8,228.2 514.1,229.3 516.2,230.9 515.5,232.5 513.0,234.0 511.5,235.0"/>
<polyline points="511.5,235.0 510.3,241.7 508.4,247.1 507.5,252.5 508.4,257.9 510.3,263.3 513.9,266.0 516.6,268.7 518.4,272.3 520.2,274.0 522.9,274.0 526.5,272.5 530.5,271.6 532.8,272.5 535.5,274.8 539.1,275.8 542.7,275.8 546.4,276.5 550.5,277.5"/>
<polyline points="550.5,277.5 548.5,280.5 547.3,283.0 546.5,286.8 546.3,290.5 546.5,293.0 548.2,294.5 551.5,292.3 556.0,290.0 560.0,288.5 564.5,285.5 569.0,284.0 573.4,283.2 577.0,283.0 580.0,283.7 583.0,284.7 586.0,285.8"/>
<polyline points="586.0,285.8 589.0,284.5 592.3,284.0 597.8,284.9 603.2,283.1 608.6,284.9 614.0,285.8 619.4,287.6 624.8,288.5 630.3,288.5 635.7,289.4 639.3,289.4"/>
<polyline points="586.0,285.8 584.5,288.5 582.0,292.5 578.5,296.5 574.5,299.3 572.0,302.5 571.8,305.5 572.5,308.3 574.2,310.8 577.8,312.6"/>
<polyline points="639.3,289.4 640.5,293.6 641.8,297.0 641.0,300.5 642.7,304.0 642.3,307.5 641.8,310.0 640.9,315.3 641.8,320.7 640.9,325.2 640.5,328.0"/>
<polyline points="577.8,312.6 582.3,314.4 586.8,312.6 590.4,312.6 593.1,316.2 595.8,320.7 600.3,322.5 604.8,323.4 608.4,320.7 613.9,321.6 618.4,321.6 622.9,322.5 624.7,325.2 630.1,326.1 635.5,327.0 640.5,328.0"/>
<polyline points="577.8,312.6 572.3,312.6 566.9,310.8 562.4,311.7 559.7,314.4 558.8,318.0 556.1,318.9 552.5,317.1 549.8,318.9 552.5,322.5 553.4,327.9 551.6,333.3 549.8,337.8"/>
<polyline points="549.8,337.8 546.2,339.6 543.5,341.2 540.5,340.2 537.2,339.5 532.6,338.9 527.2,339.0 523.6,339.8 522.0,340.8"/>
<polyline points="640.5,328.0 639.1,333.3 640.9,336.9 642.7,342.3 646.4,346.0 649.1,348.7 650.9,351.4 650.0,356.8 648.5,360.2 651.5,363.2 650.0,365.5 646.3,367.8 642.6,370.0 638.5,370.8 635.5,369.8 631.5,368.5 628.3,369.6 624.6,371.0 619.1,373.8 613.7,376.0"/>
<polyline points="549.8,337.8 554.3,336.9 557.9,337.8 561.5,340.5 566.9,341.4 572.3,342.3 577.8,343.2 581.4,346.0 584.1,351.4 585.9,355.0 589.5,357.7 594.0,360.4 596.7,364.0 595.8,367.6 598.5,369.4 603.0,370.3 606.6,370.3 608.3,370.8"/>
<polyline points="608.3,370.8 611.0,373.5 613.7,376.0"/>
<polyline points="522.0,340.8 520.9,342.2 517.3,343.1 515.5,345.8 514.6,349.4 513.5,351.5"/>
<polyline points="513.5,351.5 515.0,354.5 513.5,358.0 515.0,361.5 519.0,363.3 523.0,365.0 526.0,367.0 529.0,369.6 530.0,373.0 529.0,376.3 531.5,379.3 535.0,382.3 537.5,385.0 537.5,388.0 537.5,390.7 539.5,393.0"/>
<polyline points="539.5,393.0 541.5,388.9 545.1,388.0 549.6,387.1 554.2,387.1 557.8,386.2 561.4,385.3 564.1,382.6 565.9,379.9 569.5,378.1 572.2,375.3 574.0,378.1 577.6,379.9 581.2,381.7 584.8,383.5 588.4,383.5 591.2,381.7 593.0,379.0 593.9,376.2 597.5,375.3 601.1,373.5 605.6,372.6 608.3,370.8"/>
<polyline points="539.5,393.0 539.7,396.8 542.4,398.2 544.7,399.1 545.6,401.8 546.9,404.9 545.1,406.3 543.3,407.6 542.0,409.4 541.1,413.1 539.7,413.5 539.3,409.9 538.4,407.2 536.1,406.3 533.4,405.4 531.1,405.4 530.2,407.6 529.8,411.2 528.9,415.8 527.5,418.5 525.7,419.4 523.0,420.3 522.1,422.1 523.0,423.9 523.5,426.1 522.6,427.5"/>
<polyline points="613.7,376.0 612.8,381.7 613.7,387.1 612.8,392.5 613.7,397.0 611.0,400.6 608.8,401.8 606.5,403.3 605.2,404.5 602.9,406.0 601.6,407.2 600.2,408.7 599.8,410.8 601.1,413.2 600.7,415.3 603.8,416.5 604.5,418.0"/>
<polyline points="604.5,418.0 599.3,418.8 593.9,419.7 588.4,421.4 584.0,422.0 581.7,423.5 581.0,427.1 581.2,429.5 581.7,431.6 582.8,434.5 582.0,437.5 579.4,439.0 576.5,437.0"/>
<polyline points="522.6,427.5 524.4,428.4 526.2,427.9 527.5,426.6 528.9,426.1 529.8,426.6 531.1,428.4 532.9,428.8 534.7,428.4 536.1,426.6 536.6,424.8 537.9,424.8 539.7,425.7 541.5,426.1 542.9,427.0 544.2,428.4 545.6,429.7 547.4,429.7 549.2,429.3 551.0,429.7 552.8,430.6 554.2,432.0 555.5,432.9 557.3,433.8 558.7,434.7 560.0,435.2 563.5,433.0 566.8,431.3 569.5,432.2 572.2,434.0 574.9,436.2 576.5,437.0"/>
<polyline points="467.5,434.5 469.5,431.5 472.5,429.7 476.5,430.1 481.0,431.0 485.5,431.2 489.2,429.5 493.0,429.8 496.5,430.5 500.0,428.8 502.7,425.7 504.5,426.1 505.9,427.5 507.2,427.9 509.0,427.5 510.8,426.1 512.2,424.8 514.0,424.8 515.3,426.1 516.7,427.5 518.5,428.4 520.3,427.0 522.6,427.5"/>
<polyline points="522.6,427.5 522.1,429.3 521.7,431.1 523.0,432.0 522.6,433.8 523.9,435.2 525.3,436.5 527.5,437.5 529.5,438.8 531.4,440.8 532.9,443.7 532.5,448.0 533.0,451.6 531.2,455.2 529.4,458.8 527.6,461.5 524.9,463.3 522.2,465.1 525.0,466.5 528.5,467.3 532.0,469.0"/>
<polyline points="467.5,434.5 469.9,438.1 473.5,440.8 475.3,443.5 478.0,446.2 480.7,448.9 483.4,451.6 486.1,455.2 489.7,458.8 492.4,461.5 494.2,465.1 495.1,468.7 492.4,469.6 490.6,467.8 487.9,466.9 484.3,467.8 481.6,469.6 478.9,472.3 475.3,473.2 474.4,475.1 477.1,477.8 479.8,479.6 482.5,480.5 486.1,478.7 487.9,479.6 484.3,482.3 481.6,484.1 479.8,486.8 480.7,489.5 478.9,491.3 478.0,494.0 478.9,496.7 476.2,497.6 473.5,499.4 474.4,502.1 478.0,503.0 479.8,505.7 478.9,508.4 481.6,509.4 486.1,509.4 489.7,509.4 494.2,510.3 496.9,511.2 499.6,510.3 502.3,512.1 505.1,514.8 507.8,515.7 510.5,513.9 513.2,512.1 512.3,509.4 509.6,506.6 508.7,503.0 507.8,499.4 507.8,495.8 506.9,492.2 506.0,488.6 506.9,485.0 509.6,483.2 512.3,482.3 515.0,482.3 518.6,481.4 522.2,482.3 524.0,484.1 526.7,485.0 529.4,483.2 531.2,480.5 530.3,477.8 527.6,476.0 525.8,474.2 527.6,473.2 530.3,471.4 532.0,469.0"/>
<polyline points="532.0,469.0 533.0,468.7 536.6,467.8 540.3,468.7 543.9,468.7 548.4,469.6 551.1,472.3 550.2,475.1 547.5,476.9 546.6,480.5 549.3,482.3 552.9,483.2 556.5,485.9 557.4,489.5 558.3,493.1 561.0,492.2 563.7,489.5 567.3,487.7 570.9,487.7 573.0,487.5 574.5,485.5 573.8,481.0 574.5,477.0 577.5,473.5 581.0,471.0 584.8,469.3 588.5,467.5 591.8,465.0 593.8,461.8 597.0,459.0 601.6,457.5"/>
<polyline points="576.5,437.0 575.4,438.8 573.9,441.0 573.8,443.5 575.4,446.9 577.5,450.0 580.8,452.3 584.4,453.4 588.1,454.3 591.7,455.2 595.3,456.1 598.9,456.8 601.6,457.5"/>
<polyline points="604.5,418.0 609.7,418.1 615.1,417.1 618.7,418.1 622.3,416.2 624.2,415.3 626.9,417.1 631.4,418.1 635.0,419.9 637.7,422.6 637.7,426.2 639.5,428.9 642.2,431.6 644.9,433.4"/>
<polyline points="644.9,433.4 643.1,436.1 642.2,438.8 643.1,442.4 645.8,445.1 649.4,447.8 652.1,451.4 654.8,452.3"/>
<polyline points="644.9,433.4 647.6,432.5 652.1,431.6 654.8,429.8 655.7,426.2 653.9,423.5 656.6,421.7 660.3,422.6 663.9,420.8 668.4,419.9 671.1,420.8 673.8,423.5 676.5,425.3 680.1,427.1 683.7,428.9 686.4,431.6 689.1,434.3 690.0,437.9 689.1,442.4 690.0,446.0 689.1,449.6 690.9,452.3 694.5,454.2 697.3,456.0 696.4,458.7 694.5,459.6 692.5,462.5"/>
<polyline points="654.8,452.3 657.5,452.3 660.3,454.2 663.9,456.9 668.4,459.6 672.9,460.5 676.5,462.3 678.3,465.0 681.9,465.9 685.5,465.9 689.1,465.0 691.5,465.5 692.5,462.5"/>
<polyline points="647.0,461.0 648.5,457.8 651.2,455.1 654.8,452.3"/>
<polyline points="601.6,457.5 603.4,454.2 606.1,451.2 607.9,447.8 611.5,446.0 615.1,444.2 618.7,443.3 622.3,444.2 623.2,447.8 624.2,452.3 626.0,455.1 628.7,456.9 632.3,458.3 636.8,459.0 640.4,459.8 644.0,460.3 647.0,461.0"/>
<polyline points="647.0,461.0 646.7,462.6 644.0,464.4 642.2,467.4 640.4,471.5 639.5,475.5 637.7,479.6 635.9,483.2 634.6,486.8 632.3,489.5 635.0,491.5 638.6,493.3 642.2,495.1 645.8,496.0 649.4,497.8 653.0,500.5 656.6,503.2 660.3,504.2 663.9,506.0 667.5,509.6"/>
<polyline points="692.5,462.5 691.8,465.3 690.9,467.1 690.0,470.8 689.1,475.3 688.2,478.9 689.1,482.5 690.9,485.2 693.6,487.9 695.5,490.6 697.3,493.3 696.4,496.0 694.5,497.8 690.9,499.6 689.1,502.3 685.5,503.2 681.9,504.2 680.1,506.9 678.3,509.6 674.7,507.8 671.1,508.7 667.5,509.6"/>
<polyline points="601.6,457.5 606.5,461.0 611.5,464.5 615.0,468.0 616.9,471.0 616.0,475.5 614.2,480.7 613.3,486.1 612.4,491.5 611.5,496.9 612.4,502.3 610.6,507.8 608.8,512.3 607.9,516.8 608.8,522.2 607.0,527.6 606.1,531.2 607.9,533.0 607.9,535.7 609.7,536.6 613.3,537.5 617.8,537.5 618.7,534.8 619.6,531.2 621.4,527.6 623.2,524.9 627.8,525.8 631.4,526.7 633.2,524.0 630.5,522.2 627.8,521.3 625.1,519.5 626.0,516.8 628.7,515.0 632.3,516.8 636.8,518.6 640.4,517.7 643.1,516.8 646.7,515.9 649.4,517.7 652.1,518.6 655.7,517.7 658.4,515.9 661.2,514.1 663.9,513.2 666.6,512.3 667.5,509.6"/>
<polyline points="475.0,249.8 477.8,249.8 481.4,248.9 485.0,247.1 488.6,246.2 491.3,243.5 494.9,241.7 497.6,239.9 501.2,239.0 504.8,238.1 508.4,236.2 511.5,235.0"/>
<polyline points="385.0,273.2 385.9,268.2 385.0,265.5 386.8,262.8 389.5,259.2 391.4,257.3 392.3,255.5 394.1,252.8 396.8,251.9 399.5,249.2 400.4,245.6 402.2,242.9 404.9,242.0 407.6,240.2 409.4,241.1 412.1,242.0 415.7,242.9 419.3,243.8 422.0,245.0 425.4,246.5 428.1,245.3 430.8,244.4 433.5,245.3 437.1,243.5 440.8,244.4 442.6,239.9 445.3,239.0 448.9,239.0 452.5,237.1 456.1,239.0 458.8,238.1 461.5,239.9 463.3,242.6 466.0,245.3 468.7,247.1 472.3,248.9 475.0,249.8"/>
<polyline points="475.0,249.8 474.2,253.4 474.2,257.9 475.1,262.4 476.0,266.9 475.5,270.0 474.0,272.2"/>
<polyline points="385.0,273.2 382.3,273.6 379.6,274.5 376.9,272.7 375.1,270.0 374.2,267.3 371.5,265.5 369.7,262.8 367.9,260.1 368.8,257.3 370.6,254.6 372.4,251.9 375.1,249.2 376.0,245.6 374.2,242.0 373.3,239.3 372.4,236.6 369.7,235.7 367.0,237.5 366.1,240.2 363.4,242.9 360.7,240.2 358.0,238.4 358.9,236.6 357.1,233.9 358.0,231.2 358.9,228.5 358.0,225.8 356.2,224.9 354.4,228.5 351.6,230.3 348.9,229.4 346.2,230.3 343.5,231.2 341.7,229.4 339.0,226.7 336.3,224.0 334.5,221.2 331.8,220.3 329.1,217.6 326.4,218.5 322.8,217.6 320.1,214.9 317.3,213.7 312.8,214.9 308.3,216.7 303.8,216.7 301.1,218.5 297.5,221.2 294.8,224.0 291.2,224.0 286.7,222.1 282.1,220.3 278.5,219.4 276.7,224.0 280.3,225.8 283.1,229.4 282.1,233.9 278.5,235.7 274.0,237.5 271.3,240.2 271.3,246.5 274.9,247.4 279.4,246.5 283.1,245.6 286.7,244.7 289.4,247.4 288.5,252.8 287.6,258.2 286.7,262.8 285.8,267.3 285.5,271.0 286.5,274.5 289.0,277.0 288.5,280.8 284.9,285.3 280.3,287.1 280.3,290.8 284.0,292.6 285.8,296.2 287.6,300.7 289.4,304.3 294.8,304.3 295.7,300.7 301.1,299.8 305.6,300.7 310.1,301.6 314.6,299.8 317.3,297.1 321.0,296.2 325.5,297.1 330.0,298.9 333.6,301.6 336.3,305.2 338.1,309.7 341.7,312.4 345.3,311.5 349.8,313.3 353.4,316.9 358.0,318.7 361.6,317.8 365.0,316.1 366.8,315.2 368.6,313.9 370.0,314.8 371.3,316.1 373.1,316.6 374.9,316.1 376.3,315.7"/>
<polyline points="385.0,273.2 384.1,276.3 383.2,279.0 384.1,282.6 383.3,285.5 384.4,287.7 385.3,290.0 383.5,291.8 380.8,292.2 378.1,292.7 375.8,293.6 374.5,295.4 374.9,297.2 376.7,298.5 379.0,299.9 379.9,301.7 378.5,303.5 376.7,304.4 375.8,306.2 376.3,308.5 376.3,311.2 376.7,313.9 376.3,315.7"/>
<polyline points="376.3,315.7 378.1,315.2 379.9,314.8 381.7,314.3 383.1,313.9"/>
<polyline points="383.1,313.9 381.2,311.2 381.7,309.4 384.0,308.5 386.2,307.1 388.5,307.6 391.2,308.0 393.9,307.6 396.6,307.1 398.8,305.8 397.9,303.5 397.0,301.7 397.0,299.4 397.9,298.1 399.7,297.6 401.1,296.3 402.5,294.5 405.0,294.2 407.4,294.5 410.5,294.6 413.5,295.8 416.4,297.2 418.5,299.5 421.0,300.5 424.0,301.0 426.0,301.8 427.5,298.0 429.5,294.5 432.0,292.3 435.2,291.3 439.5,290.0 443.0,288.2 445.0,285.3 447.8,282.6 450.8,279.8 454.5,278.3 458.3,278.0 462.3,276.2 465.0,274.4 468.6,274.3 471.5,272.6 474.0,272.2"/>
<polyline points="474.0,272.2 474.9,277.2 477.2,280.5 480.5,283.8 484.0,287.5 487.5,289.7 491.0,291.2 494.5,292.5 498.0,294.2 502.5,295.5 507.0,296.4 511.0,297.0 514.7,298.3 517.4,300.5 513.8,302.3 509.7,303.2 508.4,306.3 509.3,310.5 510.7,314.5 512.5,318.5 515.5,322.3 519.3,324.2 522.7,326.5 524.5,330.5 524.4,335.0 523.5,338.6 522.0,340.8"/>
<polyline points="383.1,313.9 384.0,313.0 386.2,312.1 388.0,311.2 389.4,311.6 389.8,313.9 389.4,316.6 390.3,318.4 392.1,319.3 393.9,316.6 396.1,315.7 398.4,314.8 399.7,316.1 399.7,318.4 399.3,320.2 399.7,322.0 399.7,323.8 398.8,325.6 397.0,327.0 396.1,328.3 396.6,330.1 397.5,331.9 397.8,334.5 398.5,337.0 398.6,339.8 401.5,342.5 404.5,346.0 408.5,348.5 412.0,351.0 414.0,354.0"/>
<polyline points="414.0,354.0 418.4,354.2 422.9,354.3 427.0,354.6 430.5,356.0 433.5,358.2 436.3,360.5 440.5,362.0 444.0,363.3 448.0,363.3 451.5,361.5 456.0,361.5 459.5,360.5 462.5,357.5 464.8,354.6 467.5,351.5 471.0,349.5 474.4,348.1 477.0,348.3 478.7,349.6 479.5,346.5 481.0,343.8 483.6,341.6 486.4,342.5 489.5,344.0 493.6,344.8 498.0,346.2 502.5,347.5 504.5,346.0 505.9,344.5 507.5,347.5 510.5,349.8 513.5,351.5"/>
<polyline points="414.0,354.0 411.2,358.1 410.3,360.8 412.1,363.5 413.0,367.1 413.9,371.6 414.8,376.1 416.6,380.6 418.4,385.1 420.2,390.5 420.2,396.0 422.0,401.4 424.7,404.1 428.3,405.9 431.0,408.6 432.8,412.2 436.4,415.8 440.1,419.4 443.7,422.1 446.4,423.9 450.0,425.7 452.7,427.5 453.6,430.3 457.2,432.1 461.7,433.0 465.3,433.9 467.5,434.5"/>
<polyline points="571.2,191.7 571.6,194.6 571.2,197.1 569.6,199.3 567.4,200.5 565.1,202.0 563.8,200.7 563.0,198.4"/>
<polygon points="692.5,462.5 694.5,463.6 697.3,463.6 697.1,466 694,466.4 691.6,465.6" fill="#de2d26"/>
</g>
<circle cx="582.9" cy="119.7" r="3.0" fill="#000"/>
<polyline points="421.5,531 421.5,538 501.5,538 501.5,531" fill="none" stroke="#222" stroke-width="1.5"/>
<rect x="278.8" y="406.95" width="13.6" height="10.0" fill="#ffffff" stroke="#222" stroke-width="1.3"/>
<rect x="278.8" y="428.52" width="13.6" height="10.0" fill="#fee5d9" stroke="#222" stroke-width="1.3"/>
<rect x="278.8" y="450.09" width="13.6" height="10.0" fill="#fbae91" stroke="#222" stroke-width="1.3"/>
<rect x="278.8" y="471.66" width="13.6" height="10.0" fill="#f26b4c" stroke="#222" stroke-width="1.3"/>
<rect x="278.8" y="493.23" width="13.6" height="10.0" fill="#de2d26" stroke="#222" stroke-width="1.3"/>
<rect x="278.8" y="514.80" width="13.6" height="10.0" fill="#a31d22" stroke="#222" stroke-width="1.3"/>
<text x="261.4" y="393.9" font-size="22.30" font-family="&quot;Liberation Sans&quot;, sans-serif" fill="#000" textLength="135.15" lengthAdjust="spacingAndGlyphs">Fires per day</text>
<text x="297.4" y="420.3" font-size="21.20" font-family="&quot;Liberation Sans&quot;, sans-serif" fill="#000" >No fires</text>
<text x="297.4" y="441.4" font-size="21.20" font-family="&quot;Liberation Sans&quot;, sans-serif" fill="#000" >1-24.9</text>
<text x="297.4" y="462.9" font-size="21.20" font-family="&quot;Liberation Sans&quot;, sans-serif" fill="#000" >25-49.9</text>
<text x="297.4" y="484.6" font-size="21.20" font-family="&quot;Liberation Sans&quot;, sans-serif" fill="#000" >50-74.9</text>
<text x="297.4" y="506.0" font-size="21.20" font-family="&quot;Liberation Sans&quot;, sans-serif" fill="#000" >75-99.9</text>
<text x="297.4" y="527.4" font-size="21.20" font-family="&quot;Liberation Sans&quot;, sans-serif" fill="#000" >&gt;=100</text>
<text x="438.3" y="214.3" font-size="16.40" font-family="&quot;Liberation Sans&quot;, sans-serif" fill="#000" textLength="54.37" lengthAdjust="spacingAndGlyphs">Punjab</text>
<text x="630.2" y="402.9" font-size="16.50" font-family="&quot;Liberation Sans&quot;, sans-serif" fill="#000" textLength="40.02" lengthAdjust="spacingAndGlyphs">Delhi</text>
<text x="438.7" y="530.0" font-size="17.30" font-family="&quot;Liberation Sans&quot;, sans-serif" fill="#000" textLength="47.24" lengthAdjust="spacingAndGlyphs">50 km</text>
<text x="505.8" y="123.7" font-size="14.00" font-family="&quot;Liberation Sans&quot;, sans-serif" fill="#000" textLength="68.49" lengthAdjust="spacingAndGlyphs" font-style="italic">Chandigarh</text>
</svg>
</body></html>
